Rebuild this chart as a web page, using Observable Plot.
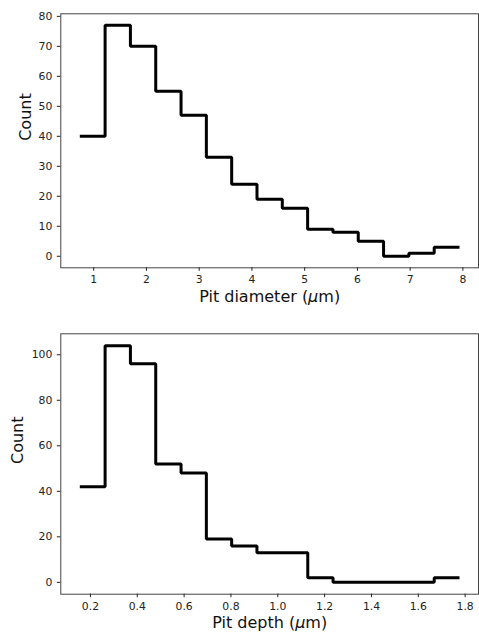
<!DOCTYPE html>
<html><head><meta charset="utf-8">
<script src="https://cdn.jsdelivr.net/npm/d3@7"></script>
<script src="https://cdn.jsdelivr.net/npm/@observablehq/plot@0.6"></script>
<style>
body{margin:0;background:#fff}
#chart{width:479px}
svg{display:block}
</style>
</head><body><div id="chart"></div>
<script>
// Pit diameter histogram (µm)
const diameterEdges = [0.736, 1.216, 1.696, 2.176, 2.656, 3.136, 3.616, 4.096, 4.576, 5.056, 5.536, 6.016, 6.496, 6.976, 7.456, 7.936];
const diameterCounts = [40, 77, 70, 55, 47, 33, 24, 19, 16, 9, 8, 5, 0, 1, 3];
const diameterXTicks = [1, 2, 3, 4, 5, 6, 7, 8];
const diameterYTicks = [0, 10, 20, 30, 40, 50, 60, 70, 80];

// Pit depth histogram (µm)
const depthEdges = [0.1545, 0.2626, 0.3707, 0.4788, 0.5870, 0.6950, 0.8030, 0.9110, 1.0190, 1.1280, 1.2360, 1.3440, 1.4520, 1.5600, 1.6680, 1.7760];
const depthCounts = [42, 104, 96, 52, 48, 19, 16, 13, 13, 2, 0, 0, 0, 0, 2];
const depthXTicks = [0.2, 0.4, 0.6, 0.8, 1.0, 1.2, 1.4, 1.6, 1.8];
const depthYTicks = [0, 20, 40, 60, 80, 100];

function stepPoints(edges, counts) {
  const pts = [];
  counts.forEach((c, i) => {
    pts.push({x: edges[i], y: c});
    pts.push({x: edges[i + 1], y: c});
  });
  return pts;
}

function padDomain(lo, hi) {
  const m = (hi - lo) * 0.05;
  return [lo - m, hi + m];
}

function panel({edges, counts, xTicks, yTicks, xFormat, xLabel, height, marginTop, marginBottom, yLabelDx, xLabelDy}) {
  const pts = stepPoints(edges, counts);
  const svg = Plot.plot({
    width: 479,
    height,
    marginTop,
    marginBottom,
    marginLeft: 60.3,
    marginRight: 1,
    style: {fontFamily: "DejaVu Sans", color: "#222", background: "#fff", overflow: "visible"},
    x: {domain: padDomain(edges[0], edges[edges.length - 1])},
    y: {domain: padDomain(0, d3.max(counts))},
    marks: [
      Plot.frame({stroke: "#444", strokeWidth: 1}),
      Plot.axisX({ticks: xTicks, tickFormat: xFormat, tickSize: 3.5, tickPadding: 4.5, fontSize: 10.8, label: null}),
      Plot.axisY({ticks: yTicks, tickSize: 3.5, tickPadding: 5, fontSize: 10.8, label: null}),
      Plot.line(pts, {x: "x", y: "y", stroke: "black", strokeWidth: 3, strokeLinejoin: "miter", strokeLinecap: "butt"}),
      Plot.text([xLabel], {frameAnchor: "bottom", text: d => d, dy: xLabelDy, fontSize: 16, fill: "#111"}),
      Plot.text(["Count"], {frameAnchor: "left", text: d => d, rotate: -90, dx: yLabelDx, fontSize: 16, fill: "#111"})
    ]
  });
  svg.querySelectorAll("text").forEach(t => {
    const s = t.textContent;
    if (s.includes("μ") && t.children.length === 0) {
      const i = s.indexOf("μ");
      t.textContent = "";
      const ns = "http://www.w3.org/2000/svg";
      const a = document.createElementNS(ns, "tspan"); a.textContent = s.slice(0, i);
      const b = document.createElementNS(ns, "tspan"); b.textContent = "μ"; b.setAttribute("font-style", "italic");
      const c = document.createElementNS(ns, "tspan"); c.textContent = s.slice(i + 1);
      t.append(a, b, c);
    }
  });
  return svg;
}

const chart = document.getElementById("chart");
chart.append(panel({
  edges: diameterEdges, counts: diameterCounts, xTicks: diameterXTicks, yTicks: diameterYTicks,
  xFormat: d3.format("d"), xLabel: "Pit diameter (μm)",
  height: 310, marginTop: 13.3, marginBottom: 42.7, yLabelDx: -35, xLabelDy: 34.5
}));
chart.append(panel({
  edges: depthEdges, counts: depthCounts, xTicks: depthXTicks, yTicks: depthYTicks,
  xFormat: d3.format(".1f"), xLabel: "Pit depth (μm)",
  height: 322, marginTop: 23.3, marginBottom: 38.3, yLabelDx: -42.5, xLabelDy: 33.5
}));
</script>
</body></html>
